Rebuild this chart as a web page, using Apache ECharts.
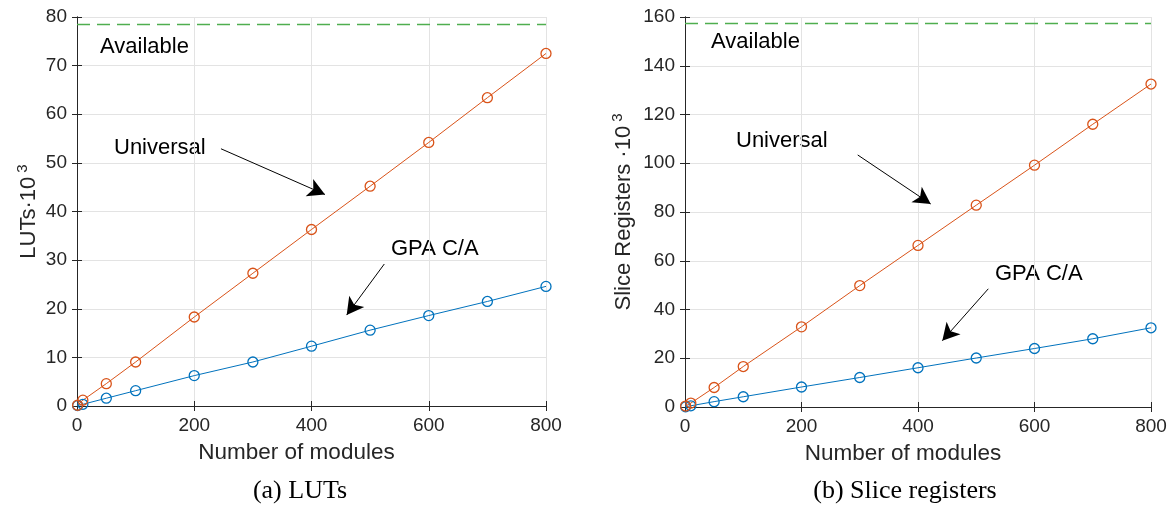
<!DOCTYPE html>
<html>
<head>
<meta charset="utf-8">
<script src="https://cdn.jsdelivr.net/npm/echarts@6/dist/echarts.min.js"></script>
<style>
  html, body { margin: 0; padding: 0; background: #fff; }
  #chart { width: 1170px; height: 508px; }
</style>
</head>
<body>
<div id="chart"></div>
<script>
// number of modules (x)
var modules = [1, 10, 50, 100, 200, 300, 400, 500, 600, 700, 800];

// (a) LUTs, in thousands
var lutUniversal = [0.15, 1.2, 4.6, 9.05, 18.3, 27.3, 36.3, 45.2, 54.2, 63.4, 72.5];
var lutGpa = [0.1, 0.35, 1.6, 3.15, 6.25, 9.05, 12.3, 15.6, 18.6, 21.5, 24.6];
var lutAvailable = 78.6;

// (b) slice registers, in thousands
var regUniversal = [0.4, 1.6, 8.0, 16.6, 32.9, 49.8, 66.3, 82.8, 99.2, 116.0, 132.5];
var regGpa = [0.1, 0.5, 2.2, 4.2, 8.2, 12.1, 16.1, 20.1, 24.0, 28.0, 32.5];
var regAvailable = 157.4;

// annotation arrows [from, to] in data units
var lutArrows = [
    [[245.6, 52.9], [423, 43.5]],
    [[524.2, 29.2], [460, 18.7]]
];
var regArrows = [
    [[296.5, 103.4], [421.8, 83.3]],
    [[520.7, 48.5], [441.7, 27.2]]
];

var axisColor = '#262626';
var gridColor = '#e3e3e3';
var blue = '#0072BD';
var orange = '#D95319';
var green = '#4fae4f';

function pairs(xs, ys) {
    return xs.map(function (x, i) { return [x, ys[i]]; });
}

function xAxes(gridIndex) {
    return [{
        gridIndex: gridIndex,
        type: 'value', min: 0, max: 800, interval: 200,
        name: 'Number of modules', nameLocation: 'middle', nameGap: 35,
        nameTextStyle: { color: axisColor, fontSize: 22.5, fontFamily: 'Liberation Sans', padding: [0, 30, 0, 0] },
        axisLine: { show: true, lineStyle: { color: axisColor, width: 1 } },
        axisTick: { show: true, inside: true, length: 5, lineStyle: { color: axisColor } },
        axisLabel: { color: axisColor, fontSize: 19, fontFamily: 'Liberation Sans', margin: 10 },
        splitLine: { show: true, lineStyle: { color: gridColor, width: 1 } }
    }, {
        gridIndex: gridIndex,
        type: 'value', min: 0, max: 800, interval: 200, position: 'top',
        axisLine: { show: true, lineStyle: { color: axisColor, width: 1 } },
        axisTick: { show: true, inside: true, length: 5, lineStyle: { color: axisColor } },
        axisLabel: { show: false },
        splitLine: { show: false }
    }];
}

function yAxes(gridIndex, max, interval, name, gap) {
    return [{
        gridIndex: gridIndex,
        type: 'value', min: 0, max: max, interval: interval,
        name: name, nameLocation: 'middle', nameGap: gap,
        nameTextStyle: {
            color: axisColor, fontSize: 22, fontFamily: 'Liberation Sans',
            rich: { sup: { fontSize: 15, fontFamily: 'Liberation Sans', color: axisColor, padding: [0, 0, 13, 4] } }
        },
        axisLine: { show: true, lineStyle: { color: axisColor, width: 1 } },
        axisTick: { show: true, inside: true, length: 5, lineStyle: { color: axisColor } },
        axisLabel: { color: axisColor, fontSize: 19, fontFamily: 'Liberation Sans', margin: 10 },
        splitLine: { show: true, lineStyle: { color: gridColor, width: 1 } }
    }, {
        gridIndex: gridIndex,
        type: 'value', min: 0, max: max, interval: interval, position: 'right',
        axisLine: { show: true, lineStyle: { color: axisColor, width: 1 } },
        axisTick: { show: true, inside: true, length: 5, lineStyle: { color: axisColor } },
        axisLabel: { show: false },
        splitLine: { show: false }
    }];
}

function lineSeries(xIdx, yIdx, data, color, markLine) {
    return {
        type: 'line',
        xAxisIndex: xIdx, yAxisIndex: yIdx,
        data: data,
        symbol: 'circle', symbolSize: 10, showSymbol: true,
        lineStyle: { color: color, width: 1 },
        itemStyle: { color: 'transparent', borderColor: color, borderWidth: 1.3 },
        emphasis: { disabled: true },
        markLine: markLine,
        z: 3
    };
}

function availableMark(value) {
    return {
        silent: true,
        animation: false,
        symbol: ['none', 'none'],
        label: { show: false },
        lineStyle: { color: green, width: 1.3, type: [13, 7], opacity: 1 },
        data: [{ yAxis: value, lineStyle: { color: green } }]
    };
}

function arrowMarks(arrows) {
    return {
        silent: true,
        animation: false,
        symbol: ['none', 'arrow'],
        symbolSize: [14, 17],
        label: { show: false },
        lineStyle: { color: '#000', width: 1, type: 'solid' },
        data: arrows.map(function (a) {
            return [{ coord: a[0] }, { coord: a[1] }];
        })
    };
}

var chart = echarts.init(document.getElementById('chart'));

var textStyle = { fontSize: 22, fontFamily: 'Liberation Sans', fill: '#000' };
function label(text, left, top) {
    return { type: 'text', left: left, top: top, style: Object.assign({ text: text }, textStyle) };
}
function caption(text, x, y) {
    return {
        type: 'text', x: x, y: y,
        style: { text: text, fontSize: 26, fontFamily: 'Liberation Serif', fill: '#000', textAlign: 'center', textVerticalAlign: 'middle' }
    };
}

chart.setOption({
    animation: false,
    backgroundColor: '#fff',
    grid: [
        { left: 77, top: 17, width: 469, height: 389 },
        { left: 685, top: 17, width: 466, height: 390 }
    ],
    xAxis: xAxes(0).concat(xAxes(1)),
    yAxis: yAxes(0, 80, 10, 'LUTs·10{sup|3}', 34).concat(
        yAxes(1, 160, 20, 'Slice Registers ·10{sup|3}', 47)),
    series: [
        lineSeries(0, 0, pairs(modules, lutGpa), blue, availableMark(lutAvailable)),
        lineSeries(0, 0, pairs(modules, lutUniversal), orange, arrowMarks(lutArrows)),
        lineSeries(2, 2, pairs(modules, regGpa), blue, availableMark(regAvailable)),
        lineSeries(2, 2, pairs(modules, regUniversal), orange, arrowMarks(regArrows))
    ],
    graphic: [
        label('Available', 100, 36),
        label('Universal', 114, 137),
        label('GPA C/A', 391, 238),
        label('Available', 711, 31),
        label('Universal', 736, 130),
        label('GPA C/A', 995, 263),
        caption('(a) LUTs', 300, 491),
        caption('(b) Slice registers', 905, 491)
    ]
});
</script>
</body>
</html>
